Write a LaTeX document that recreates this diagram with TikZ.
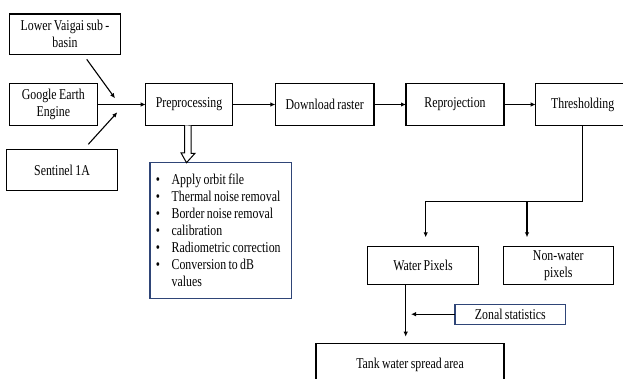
\documentclass[tikz,border=0pt]{standalone}
\usepackage{fontspec}
\setmainfont[FakeStretch=0.79, WordSpace=0.79]{Liberation Serif}
\usetikzlibrary{arrows.meta}
\definecolor{navy}{HTML}{2F4577}
\tikzset{
  box/.style={draw, line width=1.3pt, minimum height=41.4pt, inner sep=2pt, outer sep=0pt, align=center, font=\fontsize{15}{16.7}\selectfont},
  bluebox/.style={box, draw=navy, line width=1.1pt},
  listbox/.style={draw=navy, line width=1.1pt, minimum width=141.7pt, minimum height=135.6pt, text width=129.7pt, inner xsep=6pt, outer sep=0pt, align=flush left, font=\fontsize{15}{17}\selectfont},
  flow/.style={line width=1.1pt, -{Latex[length=5pt,width=4.5pt]}}
}
\newcommand{\stepitem}{\makebox[15.7pt][l]{\textbullet}}
\begin{document}
\begin{tikzpicture}[x=1pt,y=-1pt]
        \useasboundingbox (0,0) rectangle (623,379);
        \clip (0,0) rectangle (623,379);
        \node[box, minimum width=111.4pt, minimum height=40.3pt] (lvs) at (65,34.2) {Lower Vaigai sub -\\basin};
        \node[box, minimum width=88pt] (gee) at (53.3,104.5) {Google Earth\\Engine};
        \node[box, minimum width=110.6pt] (sen) at (62,169.9) {Sentinel 1A};
        \node[box, minimum width=86.6pt] (pre) at (189,104.5) {Preprocessing};
        \node[box, minimum width=98.7pt] (dl) at (324.7,104.5) {Download raster};
        \node[box, minimum width=98pt] (rep) at (455,104.5) {Reprojection};
        \node[box, minimum width=94pt] (thr) at (582.7,104.5) {Thresholding};
        \node[listbox] (steps) at (220.8,230.5) {\stepitem Apply orbit file\\\stepitem Thermal noise removal\\\stepitem Border noise removal\\\stepitem calibration\\\stepitem Radiometric correction\\\stepitem Conversion to dB\\\hspace*{15.7pt}values};
        \node[box, minimum width=110.6pt, minimum height=37.6pt] (water) at (423,265.5) {Water Pixels};
        \node[box, minimum width=110pt, minimum height=37.6pt] (nonwater) at (558.3,265.5) {Non-water\\pixels};
        \node[bluebox, minimum width=110.7pt, minimum height=19.7pt] (zonal) at (510.3,314.2) {Zonal statistics};
        \node[box, minimum width=188pt, minimum height=44pt] (tank) at (410,365.3) {Tank water spread area};

        \coordinate (lvsfrom) at (86.7,59.3);
        \coordinate (lvsto) at (115,98.3);
        \coordinate (senfrom) at (88.3,144.3);
        \coordinate (sento) at (117.3,112.3);
        \coordinate (split) at (582.7,201.7);
        \coordinate (waterin) at (425.7,237.3);
        \coordinate (nonwaterin) at (527,237.3);
        \coordinate (tankin) at (405.7,336.7);
        \coordinate (zonalto) at (411,314.2);

        \draw[flow] (lvsfrom) -- (lvsto);
        \draw[flow] (senfrom) -- (sento);
        \draw[flow] (gee) -- (pre);
        \draw[flow] (pre) -- (dl);
        \draw[flow] (dl) -- (rep);
        \draw[flow] (rep) -- (thr);
        \draw[line width=1.1pt] (thr.south) -- (split);
        \draw[flow] (split) -| (waterin);
        \draw[flow] (split -| nonwaterin) -- (nonwaterin);
        \draw[flow] ([xshift=-17.3pt]water.south) -- (tankin);
        \draw[flow] (zonal) -- (zonalto);
        \draw[line width=1pt, fill=white] ([xshift=-4.5pt]pre.south) -- ++(0,27.6) -- ++(-3.5,0) -- (steps.north -| 186.5,0) -- ++(8.5,-9.4) -- ++(-4,0) -- ++(0,-27.6);
\end{tikzpicture}
\end{document}
